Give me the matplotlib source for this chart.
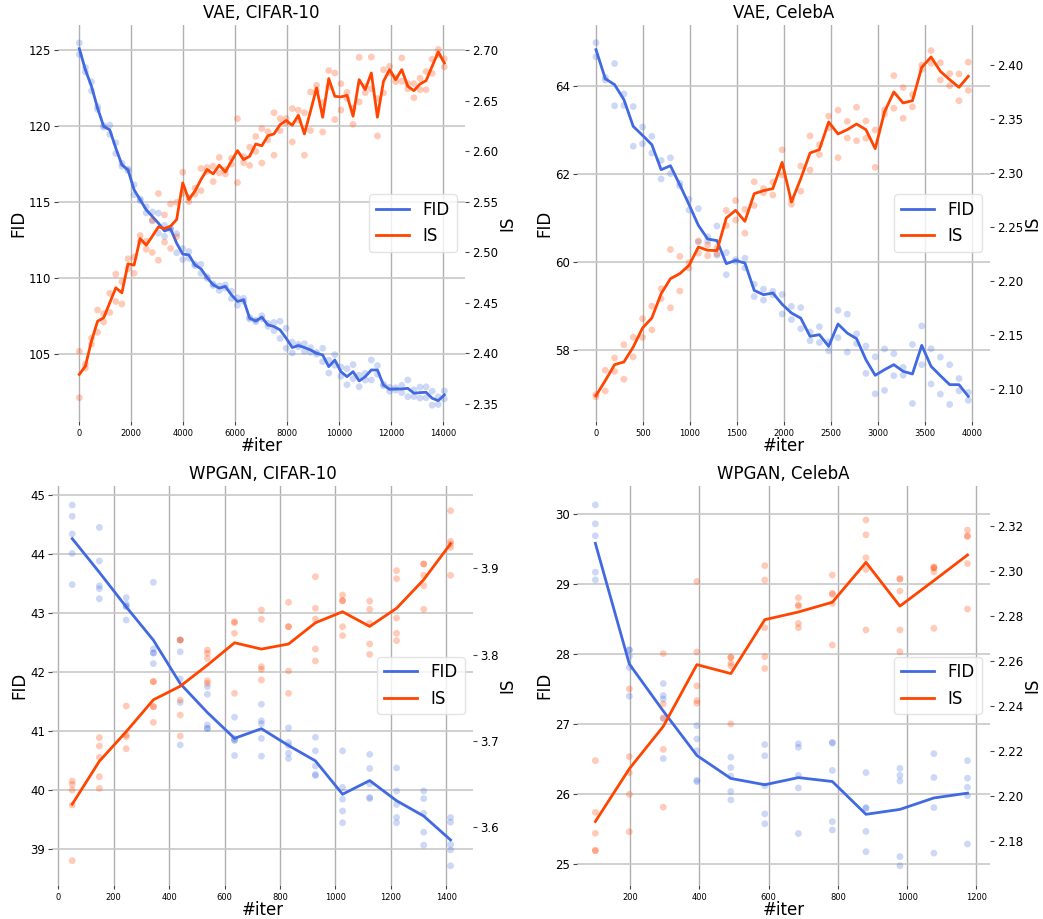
import numpy as np
import matplotlib
matplotlib.use("Agg")
import matplotlib.pyplot as plt

# ---------------- data ----------------
# VAE, CIFAR-10 (two runs per evaluation point)
vc_iters = list(range(0, 14041, 234))
vc_fid_a = [125.47, 123.85, 122.91, 121.28, 120.02, 120.05, 118.89, 117.54, 117.16, 116.13,
            115.19, 114.68, 114.34, 114.26, 113.45, 113.28, 112.91, 111.92, 111.73, 110.90,
            110.89, 110.07, 109.59, 109.47, 109.53, 109.12, 108.69, 108.65, 107.39, 107.21,
            107.50, 107.00, 107.06, 107.14, 106.68, 105.77, 105.62, 105.66, 105.40, 105.10,
            105.36, 104.57, 104.94, 104.12, 104.02, 104.28, 103.59, 103.71, 104.59, 104.22,
            102.99, 102.79, 102.76, 102.92, 103.27, 102.62, 102.80, 102.82, 102.53, 102.16, 102.55]
vc_fid_b = [124.71, 123.55, 122.31, 121.08, 119.92, 119.45, 118.19, 117.34, 117.06, 115.47,
            115.09, 114.28, 113.74, 112.94, 112.73, 113.18, 111.65, 111.20, 111.29, 110.80,
            110.29, 109.97, 109.49, 109.17, 109.33, 108.64, 108.19, 108.45, 107.29, 107.11,
            107.30, 106.80, 106.52, 106.00, 105.36, 105.05, 105.46, 105.16, 105.10, 104.96,
            104.48, 103.73, 104.24, 103.52, 102.96, 103.36, 102.83, 103.27, 103.27, 103.64,
            102.89, 102.53, 102.60, 102.44, 102.17, 102.18, 102.08, 102.10, 101.61, 101.66, 102.03]
vc_is_a = [2.4022, 2.3895, 2.4152, 2.4429, 2.4392, 2.4595, 2.4784, 2.4709, 2.4936, 2.4953,
           2.5166, 2.5110, 2.5319, 2.5581, 2.5370, 2.5478, 2.5494, 2.5791, 2.5541, 2.5634,
           2.5829, 2.5838, 2.5851, 2.5938, 2.5815, 2.5930, 2.6321, 2.5946, 2.6039, 2.6145,
           2.6223, 2.6192, 2.6380, 2.6322, 2.6322, 2.6421, 2.6405, 2.6380, 2.6584, 2.6651,
           2.6480, 2.6797, 2.6772, 2.6666, 2.6582, 2.6425, 2.6927, 2.6638, 2.6930, 2.6520,
           2.6805, 2.6839, 2.6727, 2.6921, 2.6666, 2.6668, 2.6721, 2.6787, 2.6909, 2.7005, 2.6912]
vc_is_b = [2.3562, 2.3855, 2.4092, 2.4209, 2.4312, 2.4405, 2.4514, 2.4489, 2.4836, 2.4793,
           2.5106, 2.5030, 2.4999, 2.4921, 2.5100, 2.5038, 2.5154, 2.5581, 2.5501, 2.5574,
           2.5609, 2.5798, 2.5699, 2.5784, 2.5775, 2.5870, 2.5689, 2.5886, 2.5859, 2.5997,
           2.5883, 2.6112, 2.5960, 2.6202, 2.6282, 2.6091, 2.6305, 2.5960, 2.6204, 2.6599,
           2.6190, 2.6637, 2.6312, 2.6406, 2.6522, 2.6265, 2.6487, 2.6578, 2.6616, 2.6150,
           2.6575, 2.6773, 2.6687, 2.6691, 2.6616, 2.6528, 2.6607, 2.6607, 2.6769, 2.6955, 2.6832]

# VAE, CelebA
vb_iters = list(range(0, 3961, 99))
vb_fid_a = [64.985, 64.196, 64.510, 63.820, 63.534, 63.070, 62.858, 62.310, 62.370, 61.790,
            61.426, 61.217, 60.577, 60.820, 60.217, 60.060, 60.090, 59.500, 59.388, 59.340,
            59.265, 58.997, 58.970, 58.417, 58.535, 58.190, 58.907, 58.820, 58.374, 58.097,
            57.852, 58.030, 57.924, 57.613, 58.132, 58.553, 58.036, 57.844, 57.670, 57.360, 57.045]
vb_fid_b = [64.665, 64.136, 63.550, 63.560, 62.634, 62.690, 62.478, 61.890, 62.010, 61.730,
            61.186, 60.457, 60.477, 60.160, 59.717, 60.020, 59.870, 59.220, 59.138, 59.260,
            58.825, 58.697, 58.490, 58.217, 58.175, 57.990, 58.287, 57.960, 58.154, 57.477,
            57.012, 57.090, 57.424, 57.433, 56.792, 57.673, 57.236, 57.004, 56.770, 57.080, 56.865]
vb_is_a = [2.0951, 2.1176, 2.1290, 2.1413, 2.1482, 2.1654, 2.1770, 2.1931, 2.2294, 2.2230,
           2.2174, 2.2374, 2.2337, 2.2314, 2.2656, 2.2747, 2.2665, 2.2921, 2.2859, 2.2918,
           2.3217, 2.2754, 2.3066, 2.3346, 2.3265, 2.3529, 2.3584, 2.3481, 2.3611, 2.3484,
           2.3401, 2.3588, 2.3904, 2.3793, 2.3729, 2.4001, 2.4136, 2.4024, 2.3923, 2.3920, 2.4029]
vb_is_b = [2.0931, 2.0984, 2.1166, 2.1093, 2.1300, 2.1480, 2.1550, 2.1839, 2.1754, 2.1910,
           2.2122, 2.2260, 2.2237, 2.2254, 2.2516, 2.2567, 2.2445, 2.2701, 2.2819, 2.2798,
           2.2985, 2.2714, 2.2834, 2.3030, 2.3173, 2.3421, 2.3144, 2.3327, 2.3301, 2.3324,
           2.3055, 2.3548, 2.3602, 2.3509, 2.3615, 2.3961, 2.4018, 2.3864, 2.3811, 2.3672, 2.3767]

# WPGAN, CIFAR-10 (several runs per evaluation point)
wc_iters = [50, 148, 245, 343, 440, 538, 636, 733, 831, 928, 1026, 1124, 1221, 1319, 1416]
wc_fid = [[44.83, 44.64, 44.34, 44.01, 43.48], [44.45, 43.88, 43.46, 43.41, 43.24],
          [43.26, 43.15, 43.11, 43.11, 42.88], [43.52, 42.39, 42.32, 42.32, 42.14],
          [42.54, 42.34, 41.88, 41.48, 40.76], [41.75, 41.62, 41.10, 41.04, 41.04],
          [41.23, 40.87, 40.84, 40.84, 40.58], [41.45, 41.17, 41.12, 40.87, 40.57],
          [41.05, 40.80, 40.75, 40.62, 40.53], [40.89, 40.66, 40.40, 40.26, 40.24],
          [40.66, 40.04, 39.84, 39.64, 39.44], [40.60, 40.36, 40.10, 39.87, 39.85],
          [40.37, 39.98, 39.75, 39.53, 39.44], [39.98, 39.85, 39.60, 39.28, 39.06],
          [39.53, 39.45, 39.07, 38.98, 38.71]]
wc_is = [[3.6536, 3.6497, 3.6431, 3.6258, 3.5613], [3.7038, 3.6941, 3.6810, 3.6586, 3.6451],
         [3.7405, 3.7069, 3.7049, 3.6910], [3.7687, 3.7687, 3.7397, 3.7397, 3.7216],
         [3.8170, 3.8170, 3.7474, 3.7300, 3.7057], [3.8054, 3.8015, 3.7957, 3.7698, 3.7667],
         [3.8382, 3.8370, 3.8247, 3.7552], [3.8517, 3.8409, 3.7861, 3.7830, 3.7706],
         [3.8606, 3.8324, 3.8324, 3.7810, 3.7552], [3.8903, 3.8537, 3.8413, 3.8065, 3.7926],
         [3.8691, 3.8625, 3.8625, 3.8324, 3.8220], [3.8621, 3.8525, 3.8363, 3.8123, 3.8003],
         [3.8973, 3.8880, 3.8424, 3.8247, 3.8162], [3.9050, 3.9050, 3.8919, 3.8799, 3.8525],
         [3.9668, 3.9313, 3.9282, 3.9243, 3.8919]]

# WPGAN, CelebA
wb_iters = [100, 198, 296, 393, 491, 589, 686, 784, 881, 979, 1077, 1174]
wb_fid = [[30.13, 29.86, 29.69, 29.17, 29.06], [28.06, 28.06, 27.97, 27.81, 27.40],
          [27.58, 27.41, 27.36, 27.08, 26.51], [26.98, 26.79, 26.62, 26.20, 26.18],
          [26.53, 26.38, 26.26, 26.04, 25.92], [26.71, 26.55, 26.12, 25.72, 25.58],
          [26.72, 26.67, 26.27, 26.09, 25.44], [26.74, 26.73, 26.34, 25.61, 25.49],
          [26.31, 25.81, 25.80, 25.47, 25.18], [26.37, 26.27, 26.19, 25.11, 24.98],
          [26.58, 26.24, 25.81, 25.16], [26.48, 26.23, 26.10, 25.98, 25.29]]
wb_is = [[2.2157, 2.1927, 2.1834, 2.1757, 2.1757], [2.2476, 2.2175, 2.2104, 2.2007, 2.1841],
         [2.2633, 2.2409, 2.2347, 2.2207, 2.1950], [2.2954, 2.2640, 2.2489, 2.2424, 2.2412],
         [2.2616, 2.2616, 2.2590, 2.2578, 2.2320], [2.3024, 2.2960, 2.2748, 2.2619, 2.2567],
         [2.2881, 2.2849, 2.2844, 2.2767, 2.2748], [2.2982, 2.2901, 2.2896, 2.2856, 2.2671],
         [2.3227, 2.3161, 2.3059, 2.3007, 2.2738], [2.2967, 2.2963, 2.2911, 2.2738, 2.2641],
         [2.3019, 2.3015, 2.3012, 2.2996, 2.2745], [2.3182, 2.3157, 2.3153, 2.3033, 2.2831]]

titles = ["VAE, CIFAR-10", "VAE, CelebA", "WPGAN, CIFAR-10", "WPGAN, CelebA"]

# ---------------- style ----------------
BLUE = "#4169E1"
RED = "#FF4500"
plt.rcParams["font.family"] = ["DejaVu Sans"]

fig = plt.figure(figsize=(10.43, 9.19), dpi=100)

W, H = 1043.0, 919.0
def rect(l, r, t, b):
    return [l / W, 1 - b / H, (r - l) / W, (b - t) / H]

panels = [
    dict(rect=rect(58, 465, 25, 421), xlim=(-820, 14835), fl=(100.57, 126.65), il=(2.3332, 2.7247),
         xt=np.arange(0, 14001, 2000), ft=np.arange(105, 126, 5), it=np.arange(2.35, 2.701, 0.05), ifmt="%.2f"),
    dict(rect=rect(577, 990, 25, 421), xlim=(-202, 4191), fl=(56.395, 65.385), il=(2.0706, 2.4373),
         xt=np.arange(0, 4001, 500), ft=np.arange(58, 65, 2), it=np.arange(2.10, 2.401, 0.05), ifmt="%.2f"),
    dict(rect=rect(52, 473, 486, 885), xlim=(-23, 1497), fl=(38.384, 45.153), il=(3.5331, 3.9954),
         xt=np.arange(0, 1401, 200), ft=np.arange(39, 46, 1), it=np.arange(3.6, 3.91, 0.1), ifmt="%.1f"),
    dict(rect=rect(577, 990, 486, 885), xlim=(47, 1239), fl=(24.705, 30.40), il=(2.1604, 2.3378),
         xt=np.arange(200, 1201, 200), ft=np.arange(25, 31, 1), it=np.arange(2.18, 2.321, 0.02), ifmt="%.2f"),
]

def pairs_to_cols(a, b):
    return [[x, y] for x, y in zip(a, b)]

datasets = [
    (vc_iters, pairs_to_cols(vc_fid_a, vc_fid_b), pairs_to_cols(vc_is_a, vc_is_b)),
    (vb_iters, pairs_to_cols(vb_fid_a, vb_fid_b), pairs_to_cols(vb_is_a, vb_is_b)),
    (wc_iters, wc_fid, wc_is),
    (wb_iters, wb_fid, wb_is),
]

for p, (iters, fid_cols, is_cols), title in zip(panels, datasets, titles):
    ax = fig.add_axes(p["rect"])
    ax2 = ax.twinx()
    for a in (ax, ax2):
        for s in a.spines.values():
            s.set_visible(False)
    ax.set_facecolor("white")

    # scatter of individual runs
    fx = [x for x, col in zip(iters, fid_cols) for _ in col]
    fy = [v for col in fid_cols for v in col]
    ix = [x for x, col in zip(iters, is_cols) for _ in col]
    iy = [v for col in is_cols for v in col]
    ax.scatter(fx, fy, s=24, color=BLUE, alpha=0.26, edgecolors="none", zorder=2)
    ax2.scatter(ix, iy, s=24, color=RED, alpha=0.28, edgecolors="none", zorder=2)
    fid_mean = [np.mean(c) for c in fid_cols]
    is_mean = [np.mean(c) for c in is_cols]
    l1, = ax.plot(iters, fid_mean, color=BLUE, lw=2, label="FID", zorder=3)
    l2, = ax2.plot(iters, is_mean, color=RED, lw=2, label="IS", zorder=3)

    ax.set_xlim(*p["xlim"])
    ax.set_ylim(*p["fl"])
    ax2.set_ylim(*p["il"])
    ax.set_xticks(p["xt"])
    ax.set_yticks(p["ft"])
    ax2.set_yticks(p["it"])
    ax2.set_yticklabels([p["ifmt"] % v for v in p["it"]])

    ax.grid(True, axis="x", color="#b0b0b0", lw=1.0, zorder=0)
    ax.grid(True, axis="y", color="#c8c8c8", lw=1.2, zorder=0)
    ax.set_axisbelow(True)
    ax2.grid(False)

    ax.tick_params(axis="x", labelsize=6, length=3, width=0.8, color="#444444", pad=3)
    ax.tick_params(axis="y", labelsize=8.5, length=3, width=0.8, color="#444444", pad=2)
    ax2.tick_params(axis="y", labelsize=8.5, length=3, width=0.8, color="#444444", pad=2)

    ax.set_xlabel("#iter", fontsize=12, labelpad=-1)
    ax.set_ylabel("FID", fontsize=12, labelpad=1)
    ax2.set_ylabel("IS", fontsize=12, labelpad=0)
    ax.set_title(title, fontsize=12, pad=5)

    leg = ax2.legend([l1, l2], ["FID", "IS"], loc="center right", fontsize=12,
                     frameon=True, framealpha=0.8, edgecolor="#dddddd", fancybox=True)
    leg.set_zorder(10)

fig.savefig("out.png", dpi=100)
